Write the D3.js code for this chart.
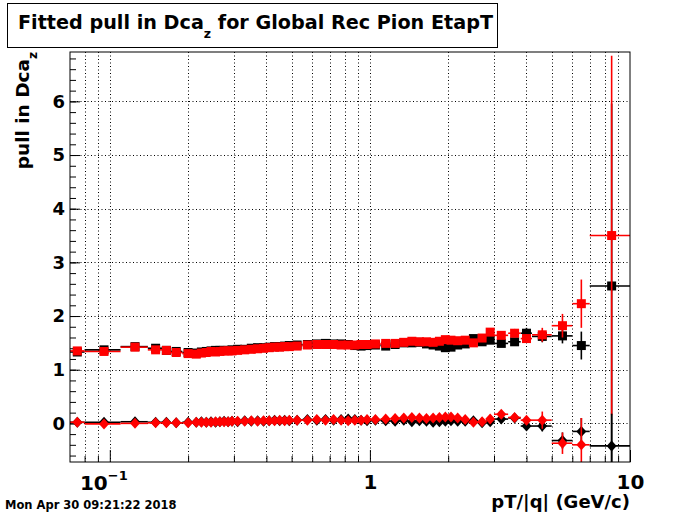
<!DOCTYPE html>
<html>
<head>
<meta charset="utf-8">
<script src="https://cdn.jsdelivr.net/npm/d3@7"></script>
<style>
    body { margin: 0; background: #fff; }
    text { font-family: 'DejaVu Sans', sans-serif; font-weight: bold; fill: #000; }
</style>
</head>
<body>
<script>
(function(){

// DATA

    // pT/|q| bin edges (GeV/c)
    const binEdges = [0.07, 0.08, 0.11, 0.14, 0.16, 0.17, 0.19, 0.21, 0.22, 0.23,
        0.24, 0.25, 0.26, 0.27, 0.28, 0.29, 0.30, 0.32, 0.34, 0.36,
        0.38, 0.40, 0.42, 0.44, 0.46, 0.48, 0.50, 0.55, 0.60, 0.65,
        0.70, 0.75, 0.80, 0.85, 0.90, 0.95, 1.0, 1.1, 1.2, 1.3,
        1.4, 1.5, 1.6, 1.7, 1.8, 1.9, 2.0, 2.1, 2.25, 2.4,
        2.6, 2.8, 3.0, 3.4, 3.8, 4.2, 5.0, 6.0, 7.0, 10.0];

    // fitted sigma (squares)
    const sigmaBlack = [1.33, 1.37, 1.43, 1.40, 1.36, 1.34, 1.32, 1.31, 1.33, 1.34,
        1.35, 1.36, 1.36, 1.36, 1.36, 1.37, 1.38, 1.38, 1.40, 1.41,
        1.41, 1.42, 1.43, 1.43, 1.44, 1.45, 1.46, 1.47, 1.48, 1.49,
        1.48, 1.48, 1.47, 1.45, 1.44, 1.45, 1.46, 1.44, 1.47, 1.50,
        1.50, 1.51, 1.48, 1.46, 1.44, 1.41, 1.42, 1.46, 1.48, 1.58,
        1.52, 1.55, 1.49, 1.52, 1.68, 1.62, 1.63, 1.45, 2.56];
    const sigmaBlackErr = [0.02, 0.02, 0.02, 0.01, 0.01, 0.01, 0.01, 0.01, 0.01, 0.01,
        0.01, 0.01, 0.01, 0.01, 0.01, 0.01, 0.01, 0.01, 0.01, 0.01,
        0.01, 0.01, 0.01, 0.01, 0.01, 0.01, 0.01, 0.01, 0.01, 0.01,
        0.01, 0.01, 0.01, 0.01, 0.01, 0.01, 0.01, 0.01, 0.01, 0.01,
        0.01, 0.01, 0.02, 0.02, 0.02, 0.02, 0.02, 0.02, 0.03, 0.03,
        0.04, 0.05, 0.06, 0.07, 0.10, 0.11, 0.14, 0.26, 3.40];
    const sigmaRed = [1.35, 1.34, 1.42, 1.37, 1.36, 1.32, 1.30, 1.29, 1.31, 1.32,
        1.34, 1.33, 1.34, 1.35, 1.35, 1.35, 1.36, 1.37, 1.38, 1.39,
        1.40, 1.41, 1.42, 1.42, 1.43, 1.43, 1.44, 1.46, 1.47, 1.47,
        1.47, 1.46, 1.46, 1.46, 1.47, 1.47, 1.48, 1.49, 1.49, 1.51,
        1.53, 1.52, 1.52, 1.51, 1.53, 1.56, 1.55, 1.54, 1.55, 1.50,
        1.59, 1.70, 1.64, 1.68, 1.58, 1.65, 1.82, 2.23, 3.50];
    const sigmaRedErr = [0.02, 0.02, 0.02, 0.01, 0.01, 0.01, 0.01, 0.01, 0.01, 0.01,
        0.01, 0.01, 0.01, 0.01, 0.01, 0.01, 0.01, 0.01, 0.01, 0.01,
        0.01, 0.01, 0.01, 0.01, 0.01, 0.01, 0.01, 0.01, 0.01, 0.01,
        0.01, 0.01, 0.01, 0.01, 0.01, 0.01, 0.01, 0.01, 0.01, 0.01,
        0.01, 0.01, 0.02, 0.02, 0.02, 0.02, 0.02, 0.02, 0.03, 0.03,
        0.04, 0.06, 0.07, 0.08, 0.08, 0.13, 0.22, 0.45, 3.35];

    // fitted mean (diamonds)
    const meanBlack = [0.02, 0.02, 0.03, 0.02, 0.02, 0.01, 0.02, 0.02, 0.03, 0.02,
        0.03, 0.02, 0.03, 0.04, 0.03, 0.04, 0.03, 0.05, 0.04, 0.05,
        0.04, 0.05, 0.06, 0.05, 0.06, 0.05, 0.06, 0.07, 0.06, 0.07,
        0.06, 0.07, 0.08, 0.07, 0.06, 0.05, 0.06, 0.05, 0.04, 0.06,
        0.03, 0.05, 0.04, 0.02, 0.03, 0.04, 0.05, 0.04, 0.04, 0.05,
        0.01, 0.03, 0.08, 0.10, -0.05, -0.05, -0.32, -0.15, -0.42];
    const meanBlackErr = [0.01, 0.01, 0.01, 0.01, 0.01, 0.01, 0.01, 0.01, 0.01, 0.01,
        0.01, 0.01, 0.01, 0.01, 0.01, 0.01, 0.01, 0.01, 0.01, 0.01,
        0.01, 0.01, 0.01, 0.01, 0.01, 0.01, 0.01, 0.01, 0.01, 0.01,
        0.01, 0.01, 0.01, 0.01, 0.01, 0.01, 0.01, 0.01, 0.01, 0.01,
        0.01, 0.01, 0.01, 0.02, 0.02, 0.02, 0.02, 0.02, 0.02, 0.03,
        0.03, 0.04, 0.04, 0.05, 0.06, 0.10, 0.15, 0.25, 0.60];
    const meanRed = [0.02, -0.01, 0.00, 0.01, 0.01, 0.01, 0.01, 0.02, 0.02, 0.02,
        0.02, 0.03, 0.03, 0.03, 0.03, 0.04, 0.04, 0.04, 0.05, 0.04,
        0.05, 0.05, 0.05, 0.06, 0.05, 0.06, 0.06, 0.06, 0.07, 0.06,
        0.07, 0.06, 0.05, 0.06, 0.06, 0.07, 0.07, 0.08, 0.09, 0.10,
        0.11, 0.10, 0.09, 0.10, 0.11, 0.12, 0.12, 0.10, 0.07, 0.02,
        0.03, 0.08, 0.17, 0.11, 0.06, 0.06, -0.37, -0.40, null];
    const meanRedErr = [0.01, 0.01, 0.01, 0.01, 0.01, 0.01, 0.01, 0.01, 0.01, 0.01,
        0.01, 0.01, 0.01, 0.01, 0.01, 0.01, 0.01, 0.01, 0.01, 0.01,
        0.01, 0.01, 0.01, 0.01, 0.01, 0.01, 0.01, 0.01, 0.01, 0.01,
        0.01, 0.01, 0.01, 0.01, 0.01, 0.01, 0.01, 0.01, 0.01, 0.01,
        0.01, 0.01, 0.01, 0.02, 0.02, 0.02, 0.02, 0.02, 0.02, 0.03,
        0.03, 0.04, 0.05, 0.05, 0.06, 0.16, 0.20, 0.50, null];

    const yTicks = [0, 1, 2, 3, 4, 5, 6];
    const xMajorTicks = [0.1, 1, 10];
    const xMinorTicks = [0.08, 0.09, 0.2, 0.3, 0.4, 0.5, 0.6, 0.7, 0.8, 0.9,
        2, 3, 4, 5, 6, 7, 8, 9];

    const titleMain = 'Fitted pull in Dca',
        titleSub = 'z',
        titleRest = ' for Global Rec Pion EtapT',
        yLabelMain = 'pull in Dca',
        yLabelSub = 'z',
        xLabel = 'pT/|q| (GeV/c)',
        dateLabel = 'Mon Apr 30 09:21:22 2018';

// LAYOUT

    const width = 700,
        height = 514,
        left = 70,
        right = 630,
        top = 52,
        bottom = 462;

    const x = d3.scaleLog()
        .domain([0.0703, 10])
        .range([left, right]);

    const y = d3.scaleLinear()
        .domain([-0.72, 6.92])
        .range([bottom, top]);

    window.onload = setChart();

function setChart(){

    const svg = d3
        .select('body')
        .append('svg')
        .attr('width', width)
        .attr('height', height);

    svg.append('defs')
        .append('clipPath')
        .attr('id', 'frameClip')
        .append('rect')
        .attr('x', left)
        .attr('y', top)
        .attr('width', right - left)
        .attr('height', bottom - top);

    setGrid(svg);
    setAxes(svg);

    const plot = svg
        .append('g')
        .attr('clip-path', 'url(#frameClip)');

    drawSeries(plot, sigmaBlack, sigmaBlackErr, '#000', 'square');
    drawSeries(plot, sigmaRed, sigmaRedErr, '#f00', 'square');
    drawSeries(plot, meanBlack, meanBlackErr, '#000', 'diamond');
    drawSeries(plot, meanRed, meanRedErr, '#f00', 'diamond');

    // frame
    svg.append('rect')
        .attr('x', left)
        .attr('y', top)
        .attr('width', right - left)
        .attr('height', bottom - top)
        .attr('fill', 'none')
        .attr('stroke', '#000')
        .attr('stroke-width', 1);

    setTexts(svg);
};

// GRID

function setGrid(svg){
    const grid = svg.append('g')
        .attr('stroke', '#000')
        .attr('stroke-width', 1)
        .attr('stroke-dasharray', '1,2.5');

    grid.selectAll('.vgrid')
        .data(xMinorTicks.concat([0.1, 1]))
        .enter()
        .append('line')
        .attr('x1', d => Math.round(x(d)) + 0.5)
        .attr('x2', d => Math.round(x(d)) + 0.5)
        .attr('y1', top)
        .attr('y2', bottom);

    grid.selectAll('.hgrid')
        .data(yTicks)
        .enter()
        .append('line')
        .attr('x1', left)
        .attr('x2', right)
        .attr('y1', d => Math.round(y(d)) + 0.5)
        .attr('y2', d => Math.round(y(d)) + 0.5);
};

// AXES

function setAxes(svg){
    const yMinor = d3.range(-0.6, 6.9, 0.2);

    const yAxisMinor = svg.append('g')
        .attr('transform', 'translate(' + left + ',0)')
        .call(d3.axisLeft(y).tickValues(yMinor).tickSize(-6).tickFormat(''));

    const yAxis = svg.append('g')
        .attr('class', 'yaxis')
        .attr('transform', 'translate(' + left + ',0)')
        .call(d3.axisLeft(y).tickValues(yTicks).tickSize(-10).tickPadding(5)
            .tickFormat(d3.format('d')));

    const xAxisMinor = svg.append('g')
        .attr('transform', 'translate(0,' + bottom + ')')
        .call(d3.axisBottom(x).tickValues(xMinorTicks).tickSize(-6).tickFormat(''));

    const xAxis = svg.append('g')
        .attr('class', 'xaxis')
        .attr('transform', 'translate(0,' + bottom + ')')
        .call(d3.axisBottom(x).tickValues(xMajorTicks).tickSize(-12).tickPadding(13)
            .tickFormat(d => d === 0.1 ? '' : d3.format('d')(d)));

    svg.selectAll('.domain').remove();
    svg.selectAll('.tick line').attr('stroke', '#000').attr('stroke-width', 1);

    yAxis.selectAll('text')
        .style('font-size', '18px');

    xAxis.selectAll('text')
        .style('font-size', '20px');

    // 10^-1 label
    const tenth = xAxis.append('text')
        .attr('x', x(0.1) - 6)
        .attr('y', 28)
        .attr('text-anchor', 'middle')
        .style('font-size', '20px');
    tenth.append('tspan').text('10');
    tenth.append('tspan')
        .attr('dy', -10)
        .style('font-size', '13px')
        .text('\u22121');
};

// SERIES

function drawSeries(plot, values, errors, color, shape){
    const pts = [];
    values.forEach(function(v, i){
        if (v === null) return;
        pts.push({
            lo: binEdges[i],
            hi: binEdges[i + 1],
            c: (binEdges[i] + binEdges[i + 1]) / 2,
            v: v,
            e: errors[i]
        });
    });

    const g = plot.append('g');

    g.selectAll('.hbar')
        .data(pts)
        .enter()
        .append('line')
        .attr('x1', d => x(d.lo))
        .attr('x2', d => x(d.hi))
        .attr('y1', d => y(d.v))
        .attr('y2', d => y(d.v))
        .attr('stroke', color)
        .attr('stroke-width', 1.6);

    g.selectAll('.vbar')
        .data(pts)
        .enter()
        .append('line')
        .attr('x1', d => x(d.c))
        .attr('x2', d => x(d.c))
        .attr('y1', d => y(d.v - d.e))
        .attr('y2', d => y(d.v + d.e))
        .attr('stroke', color)
        .attr('stroke-width', 1.6);

    const markerPath = shape === 'square'
        ? 'M-4.5,-4.5H4.5V4.5H-4.5Z'
        : 'M0,-5.5L5,0L0,5.5L-5,0Z';

    g.selectAll('.marker')
        .data(pts)
        .enter()
        .append('path')
        .attr('d', markerPath)
        .attr('transform', d => 'translate(' + x(d.c) + ',' + y(d.v) + ')')
        .attr('fill', color);
};

// TEXTS

function setTexts(svg){
    // title box
    svg.append('rect')
        .attr('x', 7.5)
        .attr('y', 3.5)
        .attr('width', 490)
        .attr('height', 44)
        .attr('fill', '#fff')
        .attr('stroke', '#000')
        .attr('stroke-width', 1);

    const title = svg.append('text')
        .attr('x', 18)
        .attr('y', 29)
        .style('font-size', '19.2px');
    title.append('tspan').text(titleMain);
    title.append('tspan')
        .attr('dy', 8.5)
        .style('font-size', '12.5px')
        .text(titleSub);
    title.append('tspan')
        .attr('dy', -8.5)
        .text(titleRest);

    const yLabel = svg.append('text')
        .attr('transform', 'translate(29,52) rotate(-90)')
        .attr('text-anchor', 'end')
        .style('font-size', '18.5px');
    yLabel.append('tspan').text(yLabelMain);
    yLabel.append('tspan')
        .attr('dy', 7.5)
        .style('font-size', '12px')
        .text(yLabelSub);

    svg.append('text')
        .attr('x', right)
        .attr('y', 508)
        .attr('text-anchor', 'end')
        .style('font-size', '18px')
        .text(xLabel);

    svg.append('text')
        .attr('x', 5)
        .attr('y', 509)
        .style('font-size', '11.5px')
        .text(dateLabel);
};

})();
</script>
</body>
</html>
